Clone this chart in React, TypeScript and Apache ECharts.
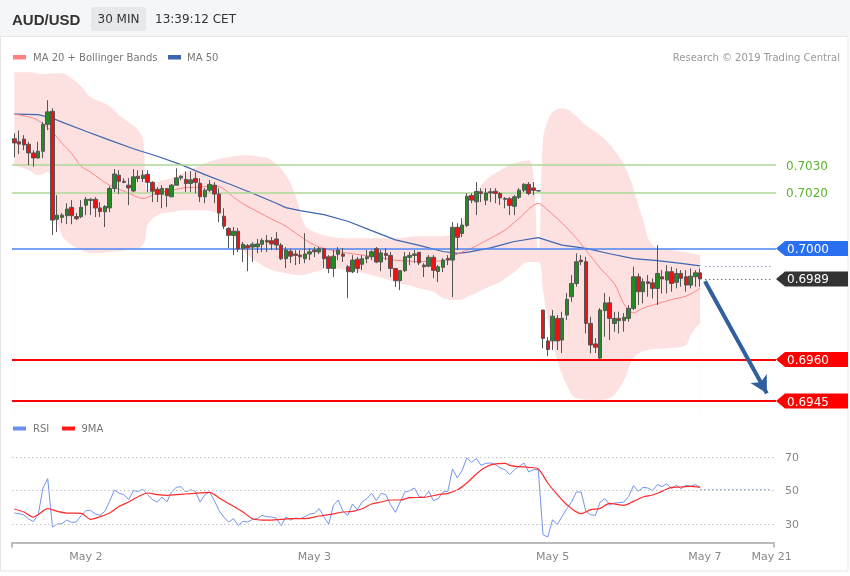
import React, { useEffect, useRef } from 'react';
import * as echarts from 'echarts';

// ---------- data ----------
const SLOT_COUNT = 160;
const categories = Array.from({ length: SLOT_COUNT }, (_, i) => String(i));
const tickIndex = [15, 63, 113, 145, 159];
const tickText = ['May 2', 'May 3', 'May 5', 'May 7', 'May 21'];

// [open, close, low, high]
const ohlc: number[][] = [
  [0.70395, 0.70380, 0.70328, 0.70415], [0.70384, 0.70376, 0.70340, 0.70425], [0.70394, 0.70373, 0.70354, 0.70408],
  [0.70375, 0.70344, 0.70300, 0.70384], [0.70344, 0.70326, 0.70294, 0.70354], [0.70326, 0.70350, 0.70324, 0.70384],
  [0.70350, 0.70447, 0.70325, 0.70455], [0.70447, 0.70492, 0.70426, 0.70534], [0.70494, 0.70102, 0.70048, 0.70505],
  [0.70105, 0.70120, 0.70059, 0.70192], [0.70112, 0.70120, 0.70091, 0.70127], [0.70118, 0.70142, 0.70088, 0.70163],
  [0.70148, 0.70118, 0.70087, 0.70174], [0.70115, 0.70107, 0.70102, 0.70127], [0.70114, 0.70148, 0.70109, 0.70174],
  [0.70156, 0.70177, 0.70120, 0.70185], [0.70173, 0.70177, 0.70120, 0.70181], [0.70177, 0.70146, 0.70113, 0.70185],
  [0.70146, 0.70133, 0.70113, 0.70167], [0.70132, 0.70151, 0.70077, 0.70156], [0.70146, 0.70216, 0.70131, 0.70224],
  [0.70216, 0.70268, 0.70203, 0.70286], [0.70264, 0.70242, 0.70196, 0.70282], [0.70242, 0.70238, 0.70235, 0.70253],
  [0.70228, 0.70218, 0.70156, 0.70253], [0.70207, 0.70258, 0.70203, 0.70286], [0.70260, 0.70252, 0.70239, 0.70282],
  [0.70252, 0.70264, 0.70239, 0.70282], [0.70267, 0.70238, 0.70203, 0.70282], [0.70238, 0.70206, 0.70167, 0.70242],
  [0.70213, 0.70195, 0.70167, 0.70221], [0.70195, 0.70216, 0.70145, 0.70228], [0.70216, 0.70190, 0.70149, 0.70217],
  [0.70186, 0.70228, 0.70185, 0.70232], [0.70228, 0.70254, 0.70228, 0.70289], [0.70254, 0.70260, 0.70246, 0.70264],
  [0.70249, 0.70234, 0.70203, 0.70278], [0.70234, 0.70247, 0.70203, 0.70278], [0.70252, 0.70238, 0.70199, 0.70275],
  [0.70235, 0.70186, 0.70167, 0.70253], [0.70186, 0.70210, 0.70163, 0.70217], [0.70210, 0.70231, 0.70203, 0.70246],
  [0.70228, 0.70196, 0.70163, 0.70239], [0.70196, 0.70128, 0.70095, 0.70217], [0.70116, 0.70080, 0.70070, 0.70145],
  [0.70072, 0.70047, 0.70001, 0.70077], [0.70047, 0.70062, 0.69976, 0.70077], [0.70062, 0.69998, 0.69987, 0.70073],
  [0.70000, 0.70015, 0.69951, 0.70023], [0.70010, 0.70002, 0.69918, 0.70016], [0.70005, 0.70015, 0.69951, 0.70023],
  [0.70006, 0.70016, 0.69983, 0.70034], [0.70015, 0.70029, 0.69987, 0.70037], [0.70029, 0.70023, 0.69987, 0.70048],
  [0.70028, 0.70016, 0.69994, 0.70041], [0.70034, 0.70012, 0.69994, 0.70059], [0.70012, 0.69963, 0.69958, 0.70019],
  [0.69963, 0.69994, 0.69929, 0.70005], [0.69990, 0.69972, 0.69947, 0.69998], [0.69980, 0.69975, 0.69940, 0.69994],
  [0.69976, 0.69970, 0.69944, 0.69994], [0.69963, 0.69980, 0.69947, 0.70055], [0.69980, 0.69988, 0.69958, 0.70001],
  [0.69994, 0.69988, 0.69969, 0.70005], [0.69987, 0.69999, 0.69980, 0.70005], [0.69999, 0.69963, 0.69929, 0.70001],
  [0.69970, 0.69928, 0.69911, 0.69976], [0.69928, 0.69972, 0.69897, 0.69994], [0.69979, 0.69994, 0.69958, 0.70005],
  [0.69980, 0.69972, 0.69951, 0.70001], [0.69934, 0.69916, 0.69821, 0.69940], [0.69916, 0.69958, 0.69911, 0.69976],
  [0.69961, 0.69928, 0.69911, 0.69969], [0.69943, 0.69963, 0.69922, 0.69976], [0.69963, 0.69970, 0.69947, 0.69994],
  [0.69970, 0.69988, 0.69958, 0.69994], [0.69999, 0.69951, 0.69947, 0.70005], [0.69951, 0.69984, 0.69918, 0.69994],
  [0.69982, 0.69975, 0.69958, 0.70001], [0.69975, 0.69928, 0.69897, 0.69987], [0.69928, 0.69884, 0.69861, 0.69929],
  [0.69884, 0.69920, 0.69850, 0.69922], [0.69920, 0.69970, 0.69915, 0.69987], [0.69968, 0.69975, 0.69940, 0.69987],
  [0.69975, 0.69980, 0.69947, 0.69994], [0.69986, 0.69948, 0.69940, 0.69987], [0.69940, 0.69934, 0.69897, 0.69947],
  [0.69936, 0.69968, 0.69933, 0.69976], [0.69968, 0.69921, 0.69893, 0.69976], [0.69917, 0.69934, 0.69879, 0.69940],
  [0.69932, 0.69958, 0.69915, 0.69965], [0.69964, 0.69958, 0.69940, 0.69976], [0.69958, 0.70076, 0.69825, 0.70095],
  [0.70076, 0.70040, 0.69994, 0.70091], [0.70054, 0.70084, 0.70041, 0.70109], [0.70083, 0.70188, 0.70077, 0.70199],
  [0.70191, 0.70174, 0.70163, 0.70199], [0.70168, 0.70205, 0.70120, 0.70239], [0.70204, 0.70198, 0.70167, 0.70217],
  [0.70174, 0.70200, 0.70156, 0.70217], [0.70204, 0.70200, 0.70167, 0.70217], [0.70206, 0.70198, 0.70163, 0.70217],
  [0.70198, 0.70182, 0.70156, 0.70203], [0.70180, 0.70177, 0.70145, 0.70185], [0.70179, 0.70155, 0.70120, 0.70185],
  [0.70152, 0.70186, 0.70120, 0.70192], [0.70184, 0.70210, 0.70178, 0.70217], [0.70210, 0.70231, 0.70203, 0.70235],
  [0.70231, 0.70198, 0.70192, 0.70239], [0.70218, 0.70209, 0.70192, 0.70239], [0.70208, 0.70207, 0.70206, 0.70209],
  [0.69778, 0.69676, 0.69640, 0.69778], [0.69667, 0.69636, 0.69612, 0.69681], [0.69667, 0.69756, 0.69634, 0.69778],
  [0.69748, 0.69667, 0.69634, 0.69760], [0.69670, 0.69748, 0.69623, 0.69772], [0.69760, 0.69817, 0.69742, 0.69839],
  [0.69826, 0.69874, 0.69808, 0.69904], [0.69874, 0.69952, 0.69862, 0.69982], [0.69958, 0.69952, 0.69940, 0.69976],
  [0.69952, 0.69730, 0.69694, 0.69970], [0.69730, 0.69652, 0.69622, 0.69754], [0.69656, 0.69644, 0.69623, 0.69677],
  [0.69605, 0.69778, 0.69598, 0.69785], [0.69776, 0.69804, 0.69682, 0.69839], [0.69804, 0.69748, 0.69670, 0.69826],
  [0.69730, 0.69748, 0.69700, 0.69772], [0.69748, 0.69740, 0.69694, 0.69772], [0.69740, 0.69752, 0.69700, 0.69767],
  [0.69748, 0.69784, 0.69736, 0.69796], [0.69784, 0.69898, 0.69778, 0.69934], [0.69898, 0.69844, 0.69796, 0.69910],
  [0.69844, 0.69880, 0.69802, 0.69892], [0.69880, 0.69874, 0.69826, 0.69904], [0.69876, 0.69856, 0.69820, 0.69892],
  [0.69856, 0.69910, 0.69796, 0.70012], [0.69898, 0.69890, 0.69838, 0.69922], [0.69886, 0.69916, 0.69838, 0.69940],
  [0.69916, 0.69874, 0.69844, 0.69934], [0.69878, 0.69910, 0.69856, 0.69928], [0.69910, 0.69892, 0.69862, 0.69922],
  [0.69898, 0.69868, 0.69844, 0.69922], [0.69868, 0.69900, 0.69856, 0.69928], [0.69898, 0.69912, 0.69862, 0.69922],
  [0.69912, 0.69890, 0.69862, 0.69928],
];

// [slot, value] readings
const ma20: number[][] = [
  [0, 0.70484], [4, 0.70469], [6, 0.70449], [8, 0.70419], [10, 0.70379], [12, 0.70343], [14, 0.70296], [16, 0.70275],
  [18, 0.70250], [20, 0.70228], [24, 0.70199], [27, 0.70180], [30, 0.70199], [33, 0.70210], [36, 0.70219], [39, 0.70221],
  [42, 0.70226], [44, 0.70214], [46, 0.70185], [48, 0.70161], [51, 0.70133], [54, 0.70106], [57, 0.70080], [60, 0.70044],
  [63, 0.70012], [66, 0.69996], [70, 0.69983], [75, 0.69972], [80, 0.69958], [85, 0.69953], [90, 0.69956], [93, 0.69980],
  [96, 0.70001], [99, 0.70028], [103, 0.70066], [106, 0.70109], [110, 0.70162], [112, 0.70138], [115, 0.70091],
  [118, 0.70037], [120, 0.69994], [123, 0.69929], [126, 0.69872], [128, 0.69800], [130, 0.69768], [132, 0.69785],
  [135, 0.69801], [138, 0.69816], [141, 0.69828], [144, 0.69856],
];
const ma50: number[][] = [
  [0, 0.70484], [5, 0.70482], [8, 0.70469], [10, 0.70455], [15, 0.70422], [20, 0.70390], [25, 0.70359], [30, 0.70332],
  [35, 0.70302], [40, 0.70266], [45, 0.70233], [50, 0.70199], [55, 0.70163], [57, 0.70147], [60, 0.70136], [65, 0.70122],
  [70, 0.70098], [75, 0.70064], [80, 0.70031], [85, 0.70011], [90, 0.69989], [93, 0.69982], [95, 0.69986], [100, 0.70002],
  [105, 0.70025], [110, 0.70039], [113, 0.70023], [115, 0.70012], [120, 0.70000], [125, 0.69981], [130, 0.69963],
  [135, 0.69956], [140, 0.69946], [144, 0.69937],
];
const bbUpper: number[][] = [
  [0, 0.70635], [3, 0.70635], [6, 0.70628], [8, 0.70631], [10, 0.70631], [12, 0.70613], [14, 0.70584], [16, 0.70545],
  [18, 0.70530], [20, 0.70512], [22, 0.70480], [24, 0.70455], [26, 0.70426], [27, 0.70390], [28, 0.70210], [30, 0.70239],
  [33, 0.70253], [36, 0.70275], [39, 0.70300], [42, 0.70318], [45, 0.70329], [48, 0.70336], [51, 0.70332], [54, 0.70318],
  [57, 0.70264], [59, 0.70192], [61, 0.70084], [63, 0.70059], [66, 0.70044], [70, 0.70037], [75, 0.70037], [80, 0.70037],
  [85, 0.70044], [90, 0.70044], [93, 0.70066], [96, 0.70174], [99, 0.70246], [102, 0.70282], [105, 0.70307],
  [108, 0.70318], [110, 0.69994], [111, 0.70390], [112, 0.70460], [113, 0.70491], [115, 0.70505], [117, 0.70491],
  [120, 0.70444], [123, 0.70408], [126, 0.70354], [129, 0.70264], [132, 0.70102], [134, 0.70012], [138, 0.69994],
  [141, 0.69987], [144, 0.69976],
];
const bbLower: number[][] = [
  [0, 0.70300], [3, 0.70282], [5, 0.70264], [7, 0.70275], [8, 0.70174], [10, 0.70048], [12, 0.70012], [14, 0.69994],
  [16, 0.69983], [18, 0.69983], [20, 0.69987], [24, 0.69994], [27, 0.70012], [28, 0.70084], [30, 0.70120], [33, 0.70131],
  [36, 0.70138], [39, 0.70138], [42, 0.70131], [45, 0.70073], [48, 0.69994], [51, 0.69951], [54, 0.69922], [57, 0.69911],
  [60, 0.69904], [63, 0.69915], [66, 0.69929], [70, 0.69922], [75, 0.69904], [80, 0.69879], [85, 0.69857], [88, 0.69843],
  [90, 0.69821], [93, 0.69814], [96, 0.69832], [99, 0.69857], [102, 0.69879], [105, 0.69915], [108, 0.69951],
  [110, 0.69951], [111, 0.69850], [112, 0.69742], [114, 0.69598], [116, 0.69508], [118, 0.69461], [122, 0.69454],
  [125, 0.69461], [128, 0.69526], [130, 0.69605], [133, 0.69634], [138, 0.69641], [141, 0.69652], [142, 0.69688],
  [144, 0.69731],
];

const rsi: number[] = [
  36.6, 36.2, 35.5, 33.0, 31.5, 35.6, 51.6, 57.2, 28.2, 30.0,
  30.2, 32.4, 31.0, 31.2, 35.0, 38.0, 38.2, 36.0, 35.2, 37.6,
  43.6, 50.4, 48.4, 47.6, 44.6, 50.0, 49.6, 50.8, 47.6, 44.6,
  43.2, 46.2, 43.2, 49.2, 52.0, 52.4, 49.2, 50.6, 49.6, 43.2,
  47.6, 49.2, 44.0, 38.0, 34.0, 31.2, 33.2, 29.2, 31.6, 31.2,
  32.8, 33.2, 35.2, 34.4, 34.2, 33.6, 29.0, 34.2, 32.4, 33.6,
  33.2, 34.4, 36.0, 36.4, 39.2, 34.4, 30.0, 41.2, 44.4, 37.6,
  35.2, 42.0, 38.6, 43.2, 45.2, 48.4, 44.0, 48.4, 47.6, 41.6,
  37.0, 43.2, 49.2, 50.0, 51.6, 46.4, 46.0, 49.6, 44.0, 45.2,
  49.2, 49.6, 63.0, 57.6, 62.0, 69.6, 67.0, 69.2, 65.2, 66.4,
  66.6, 65.6, 63.6, 62.6, 59.6, 62.6, 64.6, 66.6, 61.2, 62.6,
  62.6, 23.6, 22.2, 32.6, 29.6, 34.6, 39.2, 43.2, 49.2, 49.2,
  37.6, 35.6, 35.2, 43.2, 45.2, 41.6, 42.6, 42.8, 43.2, 46.6,
  53.0, 49.6, 52.0, 51.6, 50.0, 53.6, 52.4, 54.2, 51.2, 53.2,
  51.2, 53.2, 52.6, 53.6, 52.0,
];
const rsiMa9: number[][] = [
  [0, 39.0], [2, 37.2], [4, 34.2], [5, 35.6], [7, 39.2], [9, 37.6], [11, 36.6], [14, 36.4], [16, 32.8], [18, 34.4],
  [20, 36.6], [22, 40.6], [24, 43.2], [26, 46.4], [28, 48.6], [30, 47.6], [32, 47.2], [34, 47.6], [36, 48.0], [38, 48.4],
  [41, 49.0], [43, 45.6], [46, 40.6], [48, 37.2], [50, 33.2], [52, 32.4], [54, 32.4], [56, 32.8], [58, 33.2], [60, 33.2],
  [62, 33.6], [64, 34.8], [66, 35.6], [69, 37.2], [71, 37.6], [73, 39.2], [75, 42.0], [77, 43.2], [79, 44.4], [81, 44.4],
  [83, 45.8], [86, 46.0], [89, 47.6], [91, 48.4], [93, 50.4], [95, 54.6], [97, 60.0], [99, 64.2], [101, 66.0],
  [103, 66.4], [104, 65.2], [106, 64.4], [108, 64.0], [110, 63.0], [112, 54.6], [114, 47.6], [116, 41.6], [119, 36.2],
  [121, 38.6], [123, 39.4], [125, 42.4], [128, 41.2], [130, 43.6], [132, 46.2], [134, 47.4], [136, 49.6], [138, 52.0],
  [140, 52.2], [142, 52.6], [144, 52.0],
];
const rsiLevels = [30, 50, 70];

const resistance = [0.7030, 0.7020];
const pivot = 0.7000;
const supports = [0.6960, 0.6945];
const lastPrice = 0.6989;
const ma50Last = 0.69937;
const rsiLast = 50.8;
const arrowFrom = [145, 0.69882];
const arrowTo = [158, 0.69478];

// ---------- layout ----------
const GRID_LEFT = 12;
const GRID_WIDTH = 762;
const FONT = '"DejaVu Sans", Verdana, sans-serif';

export default function App() {
  const ref = useRef<HTMLDivElement>(null);
  useEffect(() => {
    const chart = echarts.init(ref.current!, undefined, { renderer: 'svg' });
    const dotted = [1.5, 2.5];
    const solid = (color: string, width: number) => ({ color, width, type: 'solid' });
    const levelLine = (v: number, color: string, width: number) => [
      { coord: [0, v], x: GRID_LEFT, lineStyle: solid(color, width) },
      { coord: [SLOT_COUNT - 1, v], x: GRID_LEFT + GRID_WIDTH + 2, lineStyle: solid(color, width) },
    ];
    const option: any = {
      animation: false,
      textStyle: { fontFamily: FONT },
      grid: [
        { left: GRID_LEFT, top: 68, width: GRID_WIDTH, height: 347 },
        { left: GRID_LEFT, top: 440.6, width: GRID_WIDTH, height: 101.8 },
      ],
      xAxis: [
        { type: 'category', gridIndex: 0, data: categories, boundaryGap: true, show: false },
        {
          type: 'category', gridIndex: 1, data: categories, boundaryGap: true,
          axisLine: { lineStyle: { color: '#bbbbbb', width: 2 } },
          axisTick: { show: false },
          axisLabel: {
            interval: (index: number) => tickIndex.includes(index),
            formatter: (_v: string, index: number) => {
              const k = tickIndex.indexOf(index);
              return k >= 0 ? tickText[k] : '';
            },
            color: '#888', fontSize: 11, fontFamily: FONT, margin: 9,
          },
        },
      ],
      yAxis: [
        { type: 'value', gridIndex: 0, min: 0.6940, max: 0.7065, show: false, splitLine: { show: false } },
        { type: 'value', gridIndex: 1, min: 19, max: 80, show: false, splitLine: { show: false } },
      ],
      series: [
        {
          name: 'bbUpper', type: 'line', xAxisIndex: 0, yAxisIndex: 0, data: bbUpper, smooth: 0.4,
          symbol: 'none', silent: true, z: 1,
          lineStyle: { width: 0, opacity: 0 },
          areaStyle: { color: '#fde1e1', opacity: 1, origin: 'start' },
        },
        {
          name: 'bbLower', type: 'line', xAxisIndex: 0, yAxisIndex: 0, data: bbLower, smooth: 0.4,
          symbol: 'none', silent: true, z: 2,
          lineStyle: { width: 0, opacity: 0 },
          areaStyle: { color: '#ffffff', opacity: 1, origin: 'start' },
        },
        {
          name: 'MA 50', type: 'line', xAxisIndex: 0, yAxisIndex: 0, data: ma50, symbol: 'none', silent: true, z: 3,
          lineStyle: { color: '#3d66b0', width: 1.2 },
        },
        {
          name: 'MA 20', type: 'line', xAxisIndex: 0, yAxisIndex: 0, data: ma20, smooth: 0.3, symbol: 'none',
          silent: true, z: 3, lineStyle: { color: '#ff8484', width: 1 },
        },
        {
          name: 'levels', type: 'line', xAxisIndex: 0, yAxisIndex: 0, data: [], symbol: 'none', silent: true, z: 4,
          markLine: {
            silent: true, symbol: 'none', animation: false, label: { show: false },
            data: [
              ...resistance.map((v) => levelLine(v, '#acd996', 1.5)),
              levelLine(pivot, '#4d85f3', 1.5),
              ...supports.map((v) => levelLine(v, '#ff0000', 2)),
              [
                { coord: [145, lastPrice], lineStyle: { color: '#777', width: 1, type: dotted } },
                { coord: [159, lastPrice], lineStyle: { color: '#777', width: 1, type: dotted } },
              ],
              [
                { coord: [145, ma50Last], lineStyle: { color: '#8aa3dd', width: 1, type: dotted } },
                { coord: [159, ma50Last], lineStyle: { color: '#8aa3dd', width: 1, type: dotted } },
              ],
            ],
          },
        },
        {
          name: 'AUD/USD', type: 'candlestick', xAxisIndex: 0, yAxisIndex: 0, data: ohlc, barWidth: 4, z: 5,
          itemStyle: {
            color: '#228b22', color0: '#ee1111', borderColor: '#555555', borderColor0: '#555555', borderWidth: 1,
          },
        },
        {
          name: 'forecast', type: 'line', xAxisIndex: 0, yAxisIndex: 0, data: [], symbol: 'none', silent: true, z: 7,
          markLine: {
            silent: true, animation: false, label: { show: false },
            data: [
              [
                { coord: arrowFrom, symbol: 'none', lineStyle: solid('#2f5f9f', 4) },
                { coord: arrowTo, symbol: 'arrow', symbolSize: [14, 17], lineStyle: solid('#2f5f9f', 4) },
              ],
            ],
          },
        },
        {
          name: 'RSI', type: 'line', xAxisIndex: 1, yAxisIndex: 1, data: rsi, symbol: 'none', silent: true, z: 3,
          lineStyle: { color: '#7393ee', width: 1 },
          markLine: {
            silent: true, symbol: 'none', animation: false,
            data: [
              ...rsiLevels.map((v) => ({
                yAxis: v,
                lineStyle: { color: '#c4c4c4', width: 1, type: dotted },
                label: { show: true, position: 'end', formatter: String(v), color: '#888', fontSize: 11, fontFamily: FONT, distance: 11 },
              })),
              [
                { coord: [144, rsiLast], lineStyle: { color: '#8aa6f0', width: 1, type: dotted }, label: { show: false } },
                { coord: [159, rsiLast], lineStyle: { color: '#8aa6f0', width: 1, type: dotted }, label: { show: false } },
              ],
            ],
          },
        },
        {
          name: '9MA', type: 'line', xAxisIndex: 1, yAxisIndex: 1, data: rsiMa9, smooth: 0.3, symbol: 'none',
          silent: true, z: 4, lineStyle: { color: '#ff2a2a', width: 1.2 },
        },
      ],
    };
    chart.setOption(option);

    const yPix = (v: number) => chart.convertToPixel({ yAxisIndex: 0 }, v) as number;
    const right = GRID_LEFT + GRID_WIDTH;
    const tipX = right + 2;
    const tag = (v: number, color: string, text: string) => {
      const y = yPix(v);
      return [
        {
          type: 'polygon', z: 100,
          shape: { points: [[tipX, y], [tipX + 9, y - 7.5], [848, y - 7.5], [848, y + 7.5], [tipX + 9, y + 7.5]] },
          style: { fill: color },
        },
        {
          type: 'text', z: 101,
          style: { text, x: tipX + 11, y: y + 0.5, fill: '#ffffff', font: `12px ${FONT}`, verticalAlign: 'middle', align: 'left' },
        },
      ];
    };
    const fmt = (v: number) => v.toFixed(4);
    const axisBottom = 440.6 + 101.8;
    const graphic: any[] = [
      { type: 'rect', z: 90, shape: { x: 0, y: 0, width: 850, height: 36 }, style: { fill: '#f5f6f8' } },
      { type: 'rect', z: 90, shape: { x: 0.5, y: 36.5, width: 847.5, height: 534.5 }, style: { fill: 'none', stroke: '#e6e6e6', lineWidth: 1 } },
      { type: 'text', z: 91, style: { text: 'AUD/USD', x: 12, y: 19, fill: '#333', font: `bold 15px "Liberation Sans", Arial, sans-serif`, verticalAlign: 'middle' } },
      { type: 'rect', z: 91, shape: { x: 91, y: 7, width: 55, height: 24, r: 2 }, style: { fill: '#e7e8ec' } },
      { type: 'text', z: 92, style: { text: '30 MIN', x: 118.5, y: 19, fill: '#333', font: `12px ${FONT}`, align: 'center', verticalAlign: 'middle' } },
      { type: 'text', z: 91, style: { text: '13:39:12 CET', x: 155, y: 19, fill: '#333', font: `12px ${FONT}`, verticalAlign: 'middle' } },
      { type: 'rect', z: 91, shape: { x: 13, y: 55, width: 13, height: 4.5 }, style: { fill: '#ff8080' } },
      { type: 'text', z: 91, style: { text: 'MA 20 + Bollinger Bands', x: 33, y: 57.5, fill: '#777', font: `10px ${FONT}`, verticalAlign: 'middle' } },
      { type: 'rect', z: 91, shape: { x: 168, y: 55, width: 13, height: 4.5 }, style: { fill: '#3d66b0' } },
      { type: 'text', z: 91, style: { text: 'MA 50', x: 187, y: 57.5, fill: '#777', font: `10px ${FONT}`, verticalAlign: 'middle' } },
      { type: 'text', z: 91, style: { text: 'Research © 2019 Trading Central', x: 840, y: 57.5, fill: '#999', font: `10px ${FONT}`, align: 'right', verticalAlign: 'middle' } },
      { type: 'rect', z: 91, shape: { x: 13, y: 426.5, width: 13, height: 4 }, style: { fill: '#6b8ff0' } },
      { type: 'text', z: 91, style: { text: 'RSI', x: 33, y: 428.5, fill: '#777', font: `10px ${FONT}`, verticalAlign: 'middle' } },
      { type: 'rect', z: 91, shape: { x: 62, y: 426.5, width: 13, height: 4 }, style: { fill: '#ff1a1a' } },
      { type: 'text', z: 91, style: { text: '9MA', x: 81.5, y: 428.5, fill: '#777', font: `10px ${FONT}`, verticalAlign: 'middle' } },
      { type: 'line', z: 91, shape: { x1: GRID_LEFT, y1: axisBottom, x2: GRID_LEFT, y2: axisBottom + 5 }, style: { stroke: '#bbbbbb', lineWidth: 2 } },
      { type: 'line', z: 91, shape: { x1: right, y1: axisBottom, x2: right, y2: axisBottom + 5 }, style: { stroke: '#bbbbbb', lineWidth: 2 } },
      ...resistance.map((v) => ({
        type: 'text', z: 101,
        style: { text: fmt(v), x: tipX + 10, y: yPix(v) + 0.5, fill: '#5cb530', font: `12px ${FONT}`, verticalAlign: 'middle' },
      })),
      ...tag(pivot, '#2a6ff0', fmt(pivot)),
      ...tag(lastPrice, '#333333', fmt(lastPrice)),
      ...supports.flatMap((v) => tag(v, '#ff0000', fmt(v))),
    ];
    chart.setOption({ graphic });
    return () => chart.dispose();
  }, []);
  return <div ref={ref} style={{ position: 'fixed', left: 0, top: 0, width: 850, height: 576 }} />;
}
